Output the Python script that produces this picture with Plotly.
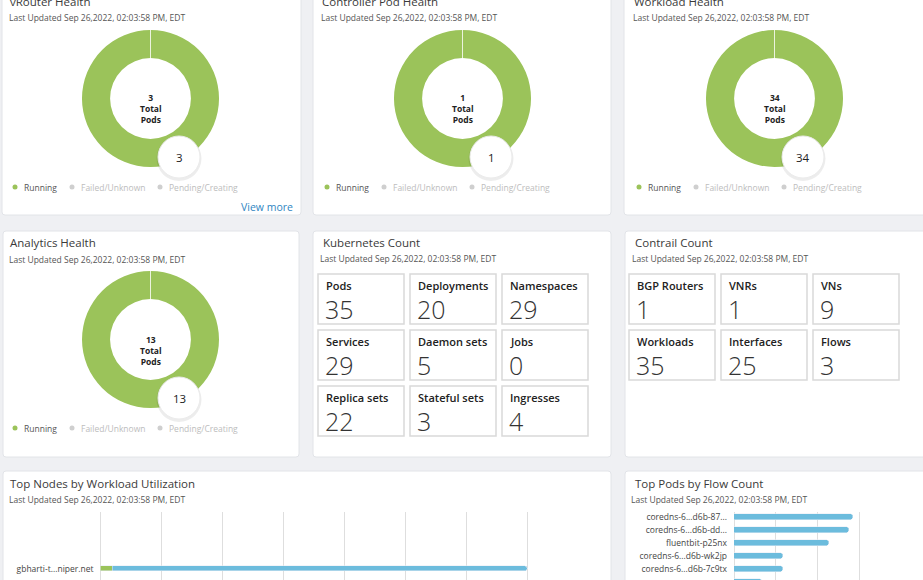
import plotly.graph_objects as go

W, H = 923, 580

# ---------------- data ----------------
updated_text = "Last Updated Sep 26,2022, 02:03:58 PM, EDT"
health_titles = ["vRouter Health", "Controller Pod Health", "Workload Health", "Analytics Health"]
health_status = ["Running", "Failed/Unknown", "Pending/Creating"]
vrouter_pods = [3, 0, 0]
controller_pods = [1, 0, 0]
workload_pods = [34, 0, 0]
analytics_pods = [13, 0, 0]

k8s_labels = ["Pods", "Deployments", "Namespaces", "Services", "Daemon sets", "Jobs",
              "Replica sets", "Stateful sets", "Ingresses"]
k8s_values = [35, 20, 29, 29, 5, 0, 22, 3, 4]

contrail_labels = ["BGP Routers", "VNRs", "VNs", "Workloads", "Interfaces", "Flows"]
contrail_values = [1, 1, 9, 35, 25, 3]

node_names = ["gbharti-t...niper.net"]
node_seg_green = [1]
node_seg_blue = [34]

pod_names = ["coredns-6...d6b-87...", "coredns-6...d6b-dd...", "fluentbit-p25nx",
             "coredns-6...d6b-wk2jp", "coredns-6...d6b-7c9tx", "coredns-6...d6b-n3f0x"]
pod_flows = [28.4, 27.6, 22.8, 11.8, 11.8, 6.6]

# ---------------- helpers ----------------
FONT = "Open Sans, Noto Sans, sans-serif"
GREEN = "#9bc35a"
BLUE = "#6cbcdd"


def X(px):
    return px / W


def Y(py):
    return 1 - py / H


shapes = []
annotations = []


def text(x, y, s, size, color="#333", xanchor="left", weight="normal", yanchor="middle"):
    annotations.append(dict(x=X(x), y=Y(y), xref="paper", yref="paper", text=s, showarrow=False,
                            xanchor=xanchor, yanchor=yanchor,
                            font=dict(family=FONT, size=size, color=color, weight=weight)))


def rrect(x0, y0, x1, y1, r, fill, line="rgba(0,0,0,0)", lw=1, layer="below"):
    p = (f"M {X(x0+r)},{Y(y0)} L {X(x1-r)},{Y(y0)} Q {X(x1)},{Y(y0)} {X(x1)},{Y(y0+r)} "
         f"L {X(x1)},{Y(y1-r)} Q {X(x1)},{Y(y1)} {X(x1-r)},{Y(y1)} "
         f"L {X(x0+r)},{Y(y1)} Q {X(x0)},{Y(y1)} {X(x0)},{Y(y1-r)} "
         f"L {X(x0)},{Y(y0+r)} Q {X(x0)},{Y(y0)} {X(x0+r)},{Y(y0)} Z")
    shapes.append(dict(type="path", path=p, xref="paper", yref="paper", fillcolor=fill,
                       line=dict(color=line, width=lw), layer=layer))


def circle(cx, cy, r, fill, line="rgba(0,0,0,0)", lw=0, layer="above"):
    shapes.append(dict(type="circle", xref="paper", yref="paper",
                       x0=X(cx - r), x1=X(cx + r), y0=Y(cy + r), y1=Y(cy - r),
                       fillcolor=fill, line=dict(color=line, width=lw), layer=layer))


# ---------------- panels ----------------
PANEL_LINE = "#e2e4e8"
rrect(2, -10, 301, 215, 3, "white", PANEL_LINE)
rrect(313, -10, 611, 215, 3, "white", PANEL_LINE)
rrect(624, -10, 930, 215, 3, "white", PANEL_LINE)
rrect(3, 231, 299, 457, 3, "white", PANEL_LINE)
rrect(313, 231, 611, 457, 3, "white", PANEL_LINE)
rrect(625, 231, 930, 457, 3, "white", PANEL_LINE)
rrect(3, 471, 611, 600, 3, "white", PANEL_LINE)
rrect(625, 471, 930, 600, 3, "white", PANEL_LINE)

fig = go.Figure()

# ---------------- health donuts ----------------
health_data = [vrouter_pods, controller_pods, workload_pods, analytics_pods]
origins = [(0, 0), (312, 0), (624, 0), (0, 241)]
R_OUT = 68.5
for i, (title, vals) in enumerate(zip(health_titles, health_data)):
    ox, oy = origins[i]
    cx, cy = 150.5 + ox, 98.5 + oy
    text(8 + ox, 1.5 + oy, title, 11.5, "#3a3a3a")
    text(7 + ox, 18 + oy, updated_text, 8.5, "#555")
    fig.add_trace(go.Pie(
        labels=health_status, values=vals, hole=0.59, sort=False, direction="clockwise",
        textinfo="none", hoverinfo="label+value", showlegend=False,
        marker=dict(colors=[GREEN, "#d9534f", "#f0ad4e"], line=dict(width=0)),
        domain=dict(x=[X(cx - R_OUT), X(cx + R_OUT)], y=[Y(cy + R_OUT), Y(cy - R_OUT)]),
    ))
    # thin seam at 12 o'clock
    shapes.append(dict(type="line", xref="paper", yref="paper", x0=X(cx), x1=X(cx),
                       y0=Y(cy - R_OUT), y1=Y(cy - 40), line=dict(color="rgba(255,255,255,0.8)", width=1),
                       layer="above"))
    total = sum(vals)
    text(cx, cy + 10.5, f"<b>{total}</b><br><b>Total</b><br><b>Pods</b>", 8.5, "#222", xanchor="center")
    # running-count bubble
    bx, by = 179 + ox, 157 + oy
    circle(bx, by + 1.5, 22.5, "rgba(0,0,0,0.07)")
    circle(bx, by, 21, "white", "#ebebeb", 1)
    text(bx, by, str(vals[0]), 11.5, "#222", xanchor="center")
    # legend
    ly = 187 + oy
    dots = [15, 72, 160]
    for j, lab in enumerate(health_status):
        col = GREEN if j == 0 else "#cfcfcf"
        tcol = "#555" if j == 0 else "#bdbdbd"
        circle(dots[j] + ox, ly, 2.5, col)
        text(dots[j] + ox + 7, ly, lab, 8.5, tcol)

text(295, 207, "View more", 10.5, "#2f86c2", xanchor="right")

# ---------------- count tiles ----------------
def tiles(title, tx, labels, values, cols_x, rows_y):
    text(tx + 8, 242, title, 11.5, "#3a3a3a")
    text(tx + 5, 258, updated_text, 8.5, "#555")
    for k, (lab, val) in enumerate(zip(labels, values)):
        bx = cols_x[k % 3]
        by = rows_y[k // 3]
        shapes.append(dict(type="rect", xref="paper", yref="paper", x0=X(bx), x1=X(bx + 86),
                           y0=Y(by + 50), y1=Y(by), fillcolor="white",
                           line=dict(color="#d9d9d9", width=1.5), layer="below"))
        text(bx + 6, by + 11, lab, 11, "#222", weight=600)
        text(bx + 5, by + 35, str(val), 25, "#333", weight=300)


tiles("Kubernetes Count", 313, k8s_labels, k8s_values, [318, 410, 502], [274, 330, 386])
tiles("Contrail Count", 625, contrail_labels, contrail_values, [629, 721, 813], [274, 330])

# ---------------- bottom bar charts ----------------
text(8, 483, "Top Nodes by Workload Utilization", 11.5, "#3a3a3a")
text(7, 499, updated_text, 8.5, "#555")
text(633, 483, "Top Pods by Flow Count", 11.5, "#3a3a3a")
text(629, 499, updated_text, 8.5, "#555")

fig.add_trace(go.Bar(y=node_names, x=node_seg_green, orientation="h", marker_color=GREEN,
                     width=0.09, xaxis="x", yaxis="y", showlegend=False, name="Running"))
fig.add_trace(go.Bar(y=node_names, x=node_seg_blue, orientation="h", marker_color=BLUE,
                     width=0.09, xaxis="x", yaxis="y", showlegend=False, name="Other",
                     marker=dict(cornerradius=3)))
fig.add_trace(go.Bar(y=pod_names, x=pod_flows, orientation="h", marker_color=BLUE,
                     width=0.46, xaxis="x2", yaxis="y2", showlegend=False, name="Flows",
                     marker=dict(cornerradius=3)))

axis_font = dict(family=FONT, size=8.5, color="#444")
fig.update_layout(
    width=W, height=H, margin=dict(l=0, r=0, t=0, b=0),
    paper_bgcolor="#eff0f3", plot_bgcolor="rgba(0,0,0,0)",
    barmode="stack", bargap=0,
    shapes=shapes, annotations=annotations,
    xaxis=dict(domain=[X(100.5), X(588.5)], range=[0, 40], dtick=5, showticklabels=False,
               showgrid=True, gridcolor="#dedede", gridwidth=1, zeroline=True,
               zerolinecolor="#dedede", zerolinewidth=1, fixedrange=True, anchor="y"),
    yaxis=dict(domain=[0, Y(512)], range=[-0.2, 1.0], showgrid=False, zeroline=False,
               tickfont=axis_font, ticks="", ticklabelstandoff=6, anchor="x", fixedrange=True),
    xaxis2=dict(domain=[X(734), X(901)], range=[0, 40], dtick=10, showticklabels=False,
                showgrid=True, gridcolor="#dedede", gridwidth=1, zeroline=True,
                zerolinecolor="#dedede", zerolinewidth=1, fixedrange=True, anchor="y2"),
    yaxis2=dict(domain=[0, Y(512)], range=[4.82, -0.41], showgrid=False, zeroline=False,
                tickfont=axis_font, ticks="", ticklabelstandoff=6, anchor="x2", fixedrange=True),
)

fig.write_html("out.html", config={"displayModeBar": False},
               post_script="document.body.style.margin='0px';document.body.style.overflow='hidden';")
